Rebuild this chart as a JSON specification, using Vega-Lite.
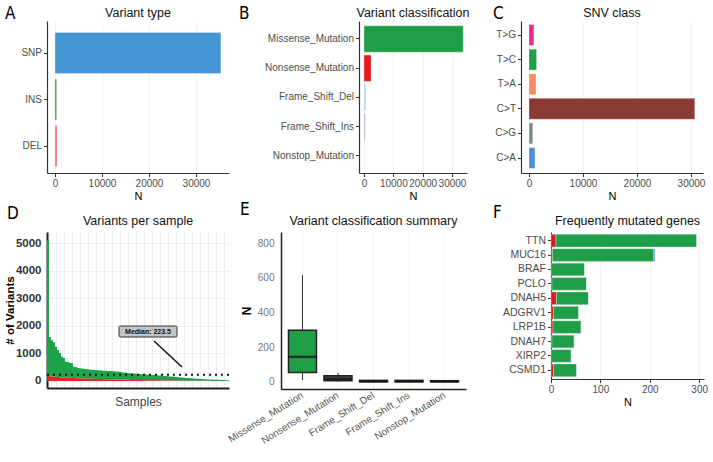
{
  "$schema": "https://vega.github.io/schema/vega-lite/v6.json",
  "padding": {"left": 4, "top": 4, "right": 0, "bottom": 0},
  "background": "white",
  "spacing": -2,
  "resolve": {"scale": {"color": "independent", "x": "independent", "y": "independent"}},
  "vconcat": [
    {
      "spacing": 10,
      "resolve": {"scale": {"color": "independent", "x": "independent", "y": "independent"}},
      "hconcat": [
        {
          "title": {"text": "A", "anchor": "start", "frame": "group", "dx": -42, "dy": 16, "fontSize": 17, "font": "Liberation Sans Narrow, DejaVu Sans Condensed, sans-serif", "fontWeight": "normal", "color": "#000", "offset": 0},
          "resolve": {"scale": {"color": "independent"}},
          "vconcat": [
            {
              "title": {"text": "Variant type", "frame": "group", "anchor": "middle", "fontSize": 12.5, "fontWeight": "normal", "color": "#111", "offset": 2},
              "width": 182, "height": 152,
              "data": {"values": [
                {"type": "SNP", "n": 35300},
                {"type": "INS", "n": 350},
                {"type": "DEL", "n": 450}
              ]},
              "mark": {"type": "bar", "stroke": "white", "strokeWidth": 0.5, "strokeOpacity": 0.6},
              "encoding": {
                "y": {"field": "type", "type": "nominal", "sort": ["SNP", "INS", "DEL"], "scale": {"paddingInner": 0.12, "paddingOuter": 0.195, "align": 0.64}, "axis": {"title": null, "grid": false}},
                "x": {"field": "n", "type": "quantitative", "scale": {"domain": [-1702, 37021], "nice": false, "zero": false}, "axis": {"title": "N", "values": [0, 10000, 20000, 30000], "format": "d"}},
                "color": {"field": "type", "type": "nominal", "scale": {"domain": ["SNP", "INS", "DEL"], "range": ["#4396d3", "#33a02c", "#f4736b"]}, "legend": null}
              }
            }
          ]
        },
        {
          "spacing": 23,
          "resolve": {"scale": {"color": "independent", "x": "independent", "y": "independent"}},
          "hconcat": [
            {
              "title": {"text": "B", "anchor": "start", "frame": "group", "dx": -120, "dy": 16, "fontSize": 17, "font": "Liberation Sans Narrow, DejaVu Sans Condensed, sans-serif", "fontWeight": "normal", "color": "#000", "offset": 0},
              "resolve": {"scale": {"color": "independent"}},
              "vconcat": [
                {
                  "title": {"text": "Variant classification", "frame": "group", "anchor": "middle", "fontSize": 12.5, "fontWeight": "normal", "color": "#111", "offset": 2},
                  "width": 108, "height": 152,
                  "data": {"values": [
                    {"vc": "Missense_Mutation", "n": 33800},
                    {"vc": "Nonsense_Mutation", "n": 2400},
                    {"vc": "Frame_Shift_Del", "n": 600},
                    {"vc": "Frame_Shift_Ins", "n": 500},
                    {"vc": "Nonstop_Mutation", "n": 50}
                  ]},
                  "mark": {"type": "bar", "stroke": "white", "strokeWidth": 0.5, "strokeOpacity": 0.6},
                  "encoding": {
                    "y": {"field": "vc", "type": "nominal", "sort": ["Missense_Mutation", "Nonsense_Mutation", "Frame_Shift_Del", "Frame_Shift_Ins", "Nonstop_Mutation"], "scale": {"paddingInner": 0.1, "paddingOuter": 0.15, "align": 0.55}, "axis": {"title": null, "grid": false}},
                    "x": {"field": "n", "type": "quantitative", "scale": {"domain": [-1705, 35118], "nice": false, "zero": false}, "axis": {"title": "N", "values": [0, 10000, 20000, 30000], "format": "d"}},
                    "color": {"field": "vc", "type": "nominal", "scale": {"domain": ["Missense_Mutation", "Nonsense_Mutation", "Frame_Shift_Del", "Frame_Shift_Ins", "Nonstop_Mutation"], "range": ["#1f9e48", "#e31a1c", "#a6cee3", "#cab2d6", "#eef3f8"]}, "legend": null}
                  }
                }
              ]
            },
            {
              "title": {"text": "C", "anchor": "start", "frame": "group", "dx": -28, "dy": 16, "fontSize": 17, "font": "Liberation Sans Narrow, DejaVu Sans Condensed, sans-serif", "fontWeight": "normal", "color": "#000", "offset": 0},
              "resolve": {"scale": {"color": "independent"}},
              "vconcat": [
                {
                  "title": {"text": "SNV class", "frame": "group", "anchor": "middle", "fontSize": 12.5, "fontWeight": "normal", "color": "#111", "offset": 2},
                  "width": 182, "height": 152,
                  "data": {"values": [
                    {"snv": "T>G", "n": 900},
                    {"snv": "T>C", "n": 1400},
                    {"snv": "T>A", "n": 1300},
                    {"snv": "C>T", "n": 30700},
                    {"snv": "C>G", "n": 700},
                    {"snv": "C>A", "n": 1100}
                  ]},
                  "mark": {"type": "bar", "stroke": "white", "strokeWidth": 0.5, "strokeOpacity": 0.6},
                  "encoding": {
                    "y": {"field": "snv", "type": "nominal", "sort": ["T>G", "T>C", "T>A", "C>T", "C>G", "C>A"], "scale": {"paddingInner": 0.15, "paddingOuter": 0.165, "align": 0.44}, "axis": {"title": null, "grid": false}},
                    "x": {"field": "n", "type": "quantitative", "scale": {"domain": [-1481, 32222], "nice": false, "zero": false}, "axis": {"title": "N", "values": [0, 10000, 20000, 30000], "format": "d"}},
                    "color": {"field": "snv", "type": "nominal", "scale": {"domain": ["T>G", "T>C", "T>A", "C>T", "C>G", "C>A"], "range": ["#e7298a", "#1e9f4a", "#fc8d62", "#8b3a36", "#7a8b8a", "#4a90d9"]}, "legend": null}
                  }
                }
              ]
            }
          ]
        }
      ]
    },
    {
      "spacing": -4,
      "resolve": {"scale": {"color": "independent", "x": "independent", "y": "independent"}},
      "hconcat": [
        {
          "title": {"text": "D", "anchor": "start", "frame": "group", "dx": -40, "dy": 8, "fontSize": 17, "font": "Liberation Sans Narrow, DejaVu Sans Condensed, sans-serif", "fontWeight": "normal", "color": "#000", "offset": 0},
          "resolve": {"scale": {"color": "independent"}},
          "vconcat": [
            {
              "title": {"text": "Variants per sample", "frame": "group", "anchor": "middle", "fontSize": 12.5, "fontWeight": "normal", "color": "#111", "offset": 5},
              "width": 182, "height": 156,
              "resolve": {"axis": {"x": "independent", "y": "independent"}},
              "layer": [
                {
                  "data": {"values": [
                    {"s": 0, "mis": 4920, "non": 180}, {"s": 1, "mis": 1420, "non": 170}, {"s": 2, "mis": 1315, "non": 165}, {"s": 3, "mis": 1240, "non": 160},
                    {"s": 4, "mis": 1090, "non": 150}, {"s": 5, "mis": 975, "non": 145}, {"s": 6, "mis": 870, "non": 140}, {"s": 7, "mis": 745, "non": 135},
                    {"s": 8, "mis": 700, "non": 130}, {"s": 9, "mis": 575, "non": 125}, {"s": 10, "mis": 570, "non": 120}, {"s": 11, "mis": 535, "non": 115},
                    {"s": 12, "mis": 530, "non": 110}, {"s": 13, "mis": 415, "non": 105}, {"s": 14, "mis": 410, "non": 100}, {"s": 15, "mis": 375, "non": 95},
                    {"s": 16, "mis": 365, "non": 95}, {"s": 17, "mis": 365, "non": 90}, {"s": 18, "mis": 355, "non": 90}, {"s": 19, "mis": 350, "non": 85},
                    {"s": 20, "mis": 340, "non": 85}, {"s": 21, "mis": 335, "non": 80}, {"s": 22, "mis": 325, "non": 80}, {"s": 23, "mis": 325, "non": 75},
                    {"s": 24, "mis": 320, "non": 75}, {"s": 25, "mis": 320, "non": 70}, {"s": 26, "mis": 315, "non": 70}, {"s": 27, "mis": 310, "non": 68},
                    {"s": 28, "mis": 308, "non": 66}, {"s": 29, "mis": 306, "non": 64}, {"s": 30, "mis": 304, "non": 62}, {"s": 31, "mis": 302, "non": 60},
                    {"s": 32, "mis": 300, "non": 58}, {"s": 33, "mis": 296, "non": 56}, {"s": 34, "mis": 292, "non": 54}, {"s": 35, "mis": 288, "non": 52},
                    {"s": 36, "mis": 280, "non": 50}, {"s": 37, "mis": 272, "non": 48}, {"s": 38, "mis": 264, "non": 46}, {"s": 39, "mis": 256, "non": 44},
                    {"s": 40, "mis": 248, "non": 42}, {"s": 41, "mis": 242, "non": 40}, {"s": 42, "mis": 237, "non": 38}, {"s": 43, "mis": 232, "non": 36},
                    {"s": 44, "mis": 226, "non": 35}, {"s": 45, "mis": 221, "non": 34}, {"s": 46, "mis": 216, "non": 33}, {"s": 47, "mis": 212, "non": 32},
                    {"s": 48, "mis": 208, "non": 31}, {"s": 49, "mis": 205, "non": 30}, {"s": 50, "mis": 200, "non": 29}, {"s": 51, "mis": 196, "non": 28},
                    {"s": 52, "mis": 191, "non": 27}, {"s": 53, "mis": 187, "non": 26}, {"s": 54, "mis": 182, "non": 25}, {"s": 55, "mis": 178, "non": 24},
                    {"s": 56, "mis": 173, "non": 23}, {"s": 57, "mis": 169, "non": 22}, {"s": 58, "mis": 164, "non": 21}, {"s": 59, "mis": 160, "non": 20},
                    {"s": 60, "mis": 154, "non": 19}, {"s": 61, "mis": 148, "non": 18}, {"s": 62, "mis": 142, "non": 17}, {"s": 63, "mis": 136, "non": 16},
                    {"s": 64, "mis": 130, "non": 15}, {"s": 65, "mis": 124, "non": 14}, {"s": 66, "mis": 118, "non": 13}, {"s": 67, "mis": 112, "non": 12},
                    {"s": 68, "mis": 106, "non": 11}, {"s": 69, "mis": 100, "non": 10}, {"s": 70, "mis": 96, "non": 9}, {"s": 71, "mis": 91, "non": 9},
                    {"s": 72, "mis": 87, "non": 8}, {"s": 73, "mis": 82, "non": 8}, {"s": 74, "mis": 78, "non": 7}, {"s": 75, "mis": 73, "non": 7},
                    {"s": 76, "mis": 69, "non": 6}, {"s": 77, "mis": 64, "non": 6}, {"s": 78, "mis": 60, "non": 5}, {"s": 79, "mis": 55, "non": 5},
                    {"s": 80, "mis": 52, "non": 5}, {"s": 81, "mis": 50, "non": 4}, {"s": 82, "mis": 47, "non": 4}, {"s": 83, "mis": 44, "non": 4},
                    {"s": 84, "mis": 41, "non": 4}, {"s": 85, "mis": 39, "non": 3}, {"s": 86, "mis": 36, "non": 3}, {"s": 87, "mis": 33, "non": 3},
                    {"s": 88, "mis": 30, "non": 3}, {"s": 89, "mis": 28, "non": 3}, {"s": 90, "mis": 27, "non": 2}
                  ]},
                  "transform": [{"fold": ["mis", "non"], "as": ["key", "value"]}],
                  "mark": {"type": "bar"},
                  "encoding": {
                    "x": {"field": "s", "type": "ordinal", "scale": {"paddingInner": 0, "paddingOuter": 0}, "axis": {"title": "Samples", "labels": false, "ticks": false, "grid": true, "gridColor": "#ececec", "values": [0, 4, 8, 12, 16, 20, 24, 28, 32, 36, 40, 44, 48, 52, 56, 60, 64, 68, 72, 76, 80, 84, 88], "domainColor": "#222", "domainWidth": 2, "titleColor": "#444", "titleFontSize": 12, "titlePadding": 8}},
                    "y": {"field": "value", "type": "quantitative", "stack": "zero", "scale": {"domain": [-254, 5400], "nice": false, "zero": false}, "axis": {"title": "# of Variants", "values": [0, 1000, 2000, 3000, 4000, 5000], "format": "d", "labelOverlap": false, "ticks": false, "labelPadding": 6, "labelFontWeight": "bold", "labelColor": "#333", "labelFontSize": 11.5, "titleFontWeight": "bold", "titleFontSize": 11.5, "titlePadding": 0, "domainColor": "#222", "domainWidth": 2, "grid": true, "gridColor": "#f0f0f0"}},
                    "color": {"field": "key", "type": "nominal", "scale": {"domain": ["mis", "non"], "range": ["#1fa34a", "#e8262a"]}, "legend": null},
                    "order": {"field": "key", "sort": "descending"}
                  }
                },
                {
                  "data": {"values": [{"median": 223.5}]},
                  "mark": {"type": "rule", "color": "#111", "strokeWidth": 2, "strokeDash": [2, 4]},
                  "encoding": {"y": {"field": "median", "type": "quantitative", "axis": null}}
                },
                {
                  "data": {"values": [{"s": 53, "v": 1449}, {"s": 67, "v": 507}]},
                  "mark": {"type": "line", "color": "#111", "strokeWidth": 1.5},
                  "encoding": {
                    "x": {"field": "s", "type": "ordinal", "axis": null},
                    "y": {"field": "v", "type": "quantitative", "axis": null}
                  }
                },
                {
                  "data": {"values": [{"s": 50, "v": 1793, "label": "Median: 223.5"}]},
                  "mark": {"type": "point", "filled": true, "fill": "#c4c4c4", "stroke": "#333", "strokeWidth": 1, "opacity": 1, "size": 3364, "shape": "M-0.95,-0.19L0.95,-0.19Q1,-0.19 1,-0.14L1,0.14Q1,0.19 0.95,0.19L-0.95,0.19Q-1,0.19 -1,0.14L-1,-0.14Q-1,-0.19 -0.95,-0.19Z"},
                  "encoding": {
                    "x": {"field": "s", "type": "ordinal", "axis": null},
                    "y": {"field": "v", "type": "quantitative", "axis": null}
                  }
                },
                {
                  "data": {"values": [{"s": 50, "v": 1793, "label": "Median: 223.5"}]},
                  "mark": {"type": "text", "fontSize": 7, "fontWeight": "bold", "color": "#111", "baseline": "middle", "align": "center"},
                  "encoding": {
                    "x": {"field": "s", "type": "ordinal", "axis": null},
                    "y": {"field": "v", "type": "quantitative", "axis": null},
                    "text": {"field": "label"}
                  }
                }
              ]
            }
          ]
        },
        {
          "spacing": 27,
          "resolve": {"scale": {"color": "independent", "x": "independent", "y": "independent"}},
          "hconcat": [
            {
              "title": {"text": "E", "anchor": "start", "frame": "group", "dx": -41, "dy": 4, "fontSize": 17, "font": "Liberation Sans Narrow, DejaVu Sans Condensed, sans-serif", "fontWeight": "normal", "color": "#000", "offset": 0},
              "resolve": {"scale": {"color": "independent"}},
              "vconcat": [
                {
                  "title": {"text": "Variant classification summary", "frame": "group", "anchor": "middle", "fontSize": 12.5, "fontWeight": "normal", "color": "#111", "offset": 5},
                  "width": 185, "height": 157,
                  "resolve": {"axis": {"y": "independent"}},
                  "data": {"values": [
                    {"vc": "Missense_Mutation", "lo": 10, "q1": 54, "med": 144, "q3": 298, "hi": 616},
                    {"vc": "Nonsense_Mutation", "lo": 0, "q1": 6, "med": 15, "q3": 35, "hi": 52},
                    {"vc": "Frame_Shift_Del", "lo": 0, "q1": 0, "med": 2, "q3": 8, "hi": 10},
                    {"vc": "Frame_Shift_Ins", "lo": 0, "q1": 0, "med": 2, "q3": 8, "hi": 10},
                    {"vc": "Nonstop_Mutation", "lo": 0, "q1": 0, "med": 1, "q3": 6, "hi": 7}
                  ]},
                  "encoding": {
                    "x": {"field": "vc", "type": "nominal", "sort": ["Missense_Mutation", "Nonsense_Mutation", "Frame_Shift_Del", "Frame_Shift_Ins", "Nonstop_Mutation"], "scale": {"paddingInner": 0.2, "paddingOuter": 0.205}, "axis": {"title": null, "labelAngle": -32, "labelAlign": "right", "labelBaseline": "middle", "labelPadding": 5, "ticks": false, "labelFontSize": 10, "labelColor": "#555", "domainColor": "#222", "domainWidth": 1.5, "grid": true, "gridColor": "#f4f4f4"}}
                  },
                  "layer": [
                    {
                      "mark": {"type": "rule", "color": "#333", "strokeWidth": 1},
                      "encoding": {
                        "y": {"field": "lo", "type": "quantitative", "scale": {"domain": [-42, 866], "nice": false, "zero": false}, "axis": {"title": "N", "values": [0, 200, 400, 600, 800], "labelOverlap": false, "ticks": false, "labelPadding": 7, "labelColor": "#777", "titleFontWeight": "bold", "titleFontSize": 12, "titlePadding": 4, "domainColor": "#222", "domainWidth": 1.5, "grid": false}},
                        "y2": {"field": "hi"}
                      }
                    },
                    {
                      "mark": {"type": "bar", "size": 28, "stroke": "#222", "strokeWidth": 1.5},
                      "encoding": {
                        "y": {"field": "q1", "type": "quantitative", "axis": null},
                        "y2": {"field": "q3"},
                        "color": {"field": "vc", "type": "nominal", "scale": {"domain": ["Missense_Mutation", "Nonsense_Mutation", "Frame_Shift_Del", "Frame_Shift_Ins", "Nonstop_Mutation"], "range": ["#1f9e48", "#444444", "#444444", "#444444", "#444444"]}, "legend": null}
                      }
                    },
                    {
                      "mark": {"type": "tick", "size": 28, "thickness": 2.5, "color": "#111"},
                      "encoding": {
                        "y": {"field": "med", "type": "quantitative", "axis": null}
                      }
                    }
                  ]
                }
              ]
            },
            {
              "title": {"text": "F", "anchor": "start", "frame": "group", "dx": -58, "dy": 7, "fontSize": 17, "font": "Liberation Sans Narrow, DejaVu Sans Condensed, sans-serif", "fontWeight": "normal", "color": "#000", "offset": 0},
              "resolve": {"scale": {"color": "independent"}},
              "vconcat": [
                {
                  "title": {"text": "Frequently mutated genes", "frame": "group", "anchor": "middle", "fontSize": 12.5, "fontWeight": "normal", "color": "#111", "offset": 5},
                  "width": 153, "height": 147,
                  "data": {"values": [
                    {"gene": "TTN", "non": 10, "mis": 285, "fsd": 0},
                    {"gene": "MUC16", "non": 3, "mis": 205, "fsd": 2},
                    {"gene": "BRAF", "non": 0, "mis": 68, "fsd": 0},
                    {"gene": "PCLO", "non": 2, "mis": 70, "fsd": 0},
                    {"gene": "DNAH5", "non": 11, "mis": 65, "fsd": 0},
                    {"gene": "ADGRV1", "non": 5, "mis": 51, "fsd": 0},
                    {"gene": "LRP1B", "non": 4, "mis": 57, "fsd": 0},
                    {"gene": "DNAH7", "non": 2, "mis": 45, "fsd": 0},
                    {"gene": "XIRP2", "non": 0, "mis": 41, "fsd": 0},
                    {"gene": "CSMD1", "non": 5, "mis": 47, "fsd": 0}
                  ]},
                  "transform": [{"fold": ["non", "mis", "fsd"], "as": ["key", "value"]}],
                  "mark": {"type": "bar", "stroke": "white", "strokeWidth": 0.5, "strokeOpacity": 0.6},
                  "encoding": {
                    "y": {"field": "gene", "type": "nominal", "sort": ["TTN", "MUC16", "BRAF", "PCLO", "DNAH5", "ADGRV1", "LRP1B", "DNAH7", "XIRP2", "CSMD1"], "scale": {"paddingInner": 0.12, "paddingOuter": 0.16}, "axis": {"title": null, "grid": false, "labelFontSize": 10.5}},
                    "x": {"field": "value", "type": "quantitative", "stack": "zero", "scale": {"domain": [0, 309.7], "nice": false, "zero": false}, "axis": {"title": "N", "values": [0, 100, 200, 300]}},
                    "color": {"field": "key", "type": "nominal", "scale": {"domain": ["non", "mis", "fsd"], "range": ["#e31a1c", "#1f9e48", "#1f78b4"]}, "legend": null},
                    "order": {"field": "key", "sort": "descending"}
                  }
                }
              ]
            }
          ]
        }
      ]
    }
  ],
  "config": {
    "view": {"stroke": null},
    "font": "Liberation Sans",
    "axis": {
      "labelFont": "Liberation Sans",
      "labelFontSize": 10,
      "labelColor": "#4d4d4d",
      "labelPadding": 2,
      "labelFlush": false,
      "labelOverlap": false,
      "titleFont": "Liberation Sans",
      "titleFontSize": 11,
      "titleFontWeight": "normal",
      "titleColor": "#000",
      "titlePadding": 2,
      "domainColor": "#333",
      "domainWidth": 1.2,
      "tickColor": "#333",
      "tickSize": 3.5,
      "gridColor": "#f2f2f2"
    }
  }
}
